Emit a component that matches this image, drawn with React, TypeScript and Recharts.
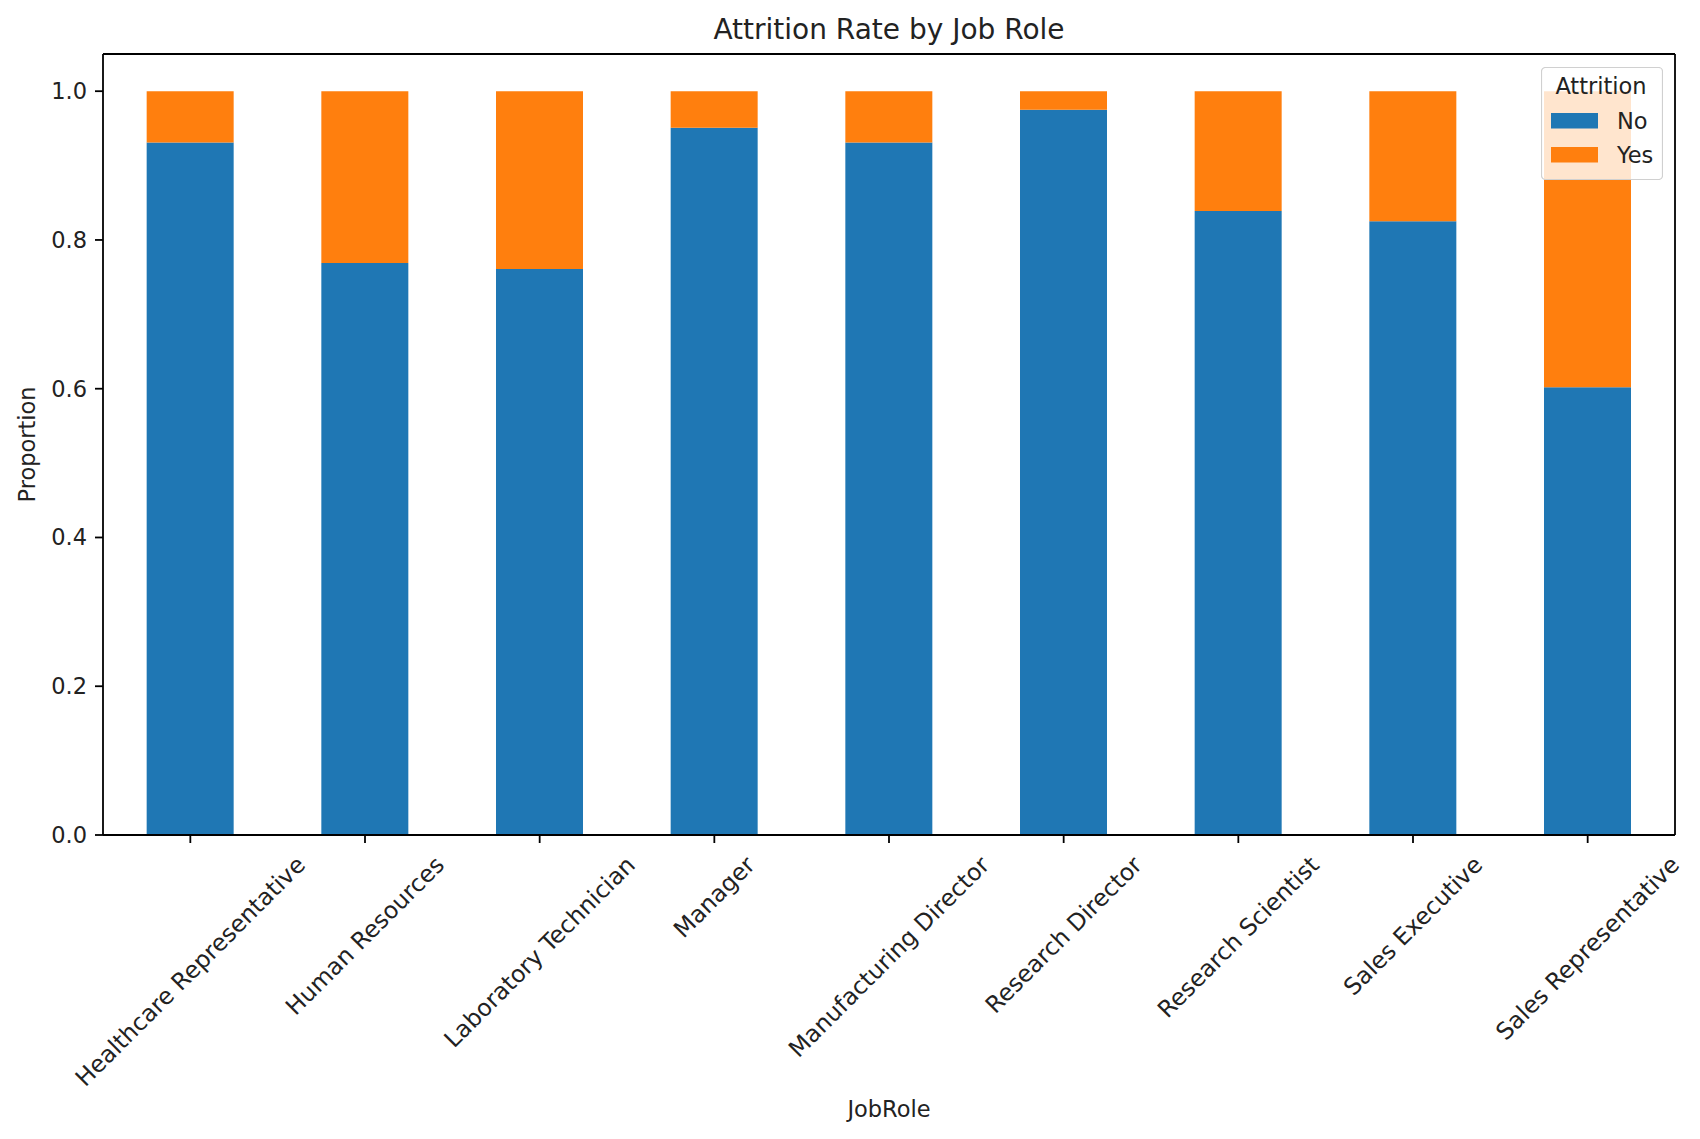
import React from 'react'
import { BarChart, Bar, Line, XAxis, YAxis, Legend, Label } from 'recharts'

const roles = [
  'Healthcare Representative',
  'Human Resources',
  'Laboratory Technician',
  'Manager',
  'Manufacturing Director',
  'Research Director',
  'Research Scientist',
  'Sales Executive',
  'Sales Representative',
]
const noShare = [0.931, 0.769, 0.761, 0.951, 0.931, 0.975, 0.839, 0.825, 0.602]
const yesShare = [0.069, 0.231, 0.239, 0.049, 0.069, 0.025, 0.161, 0.175, 0.398]
const yTicks = [0, 0.2, 0.4, 0.6, 0.8, 1.0]

const data = roles.map((role, i) => ({ role, No: noShare[i], Yes: yesShare[i] }))

const FONT = 'DejaVu Sans'
const FS = 22.5
const XFS = 23.5
const BLUE = '#1f77b4'
const ORANGE = '#ff7f0e'

let ctx: CanvasRenderingContext2D | null = null
function textWidth(s: string) {
  if (!ctx) ctx = document.createElement('canvas').getContext('2d')
  if (!ctx) return s.length * XFS * 0.58
  ctx.font = `${XFS}px "${FONT}"`
  return ctx.measureText(s).width
}

function RoleTick(props: any) {
  const { x, y, payload } = props
  const label = String(payload.value)
  const w = textWidth(label)
  const h = XFS * 1.17
  const cy = y + ((w + h) * Math.SQRT1_2) / 2
  return (
    <text x={x} y={cy} transform={`rotate(-45, ${x}, ${cy})`} textAnchor="middle"
      dominantBaseline="central" fontFamily={FONT} fontSize={XFS} fill="#222">
      {label}
    </text>
  )
}

function LegendBox(props: any) {
  const items = (props.payload || []).filter((it: any) => it.type !== 'none')
  return (
    <svg width={122} height={113} style={{ display: 'block' }}>
      <rect x={0.5} y={0.5} width={121} height={112} rx={4} fill="#fff" fillOpacity={0.8} stroke="#d0d0d0" strokeWidth={1.2} />
      <text x={60} y={27} textAnchor="middle" fontFamily={FONT} fontSize={FS} fill="#222">Attrition</text>
      {items.map((it: any, i: number) => (
        <g key={it.value}>
          <rect x={10} y={46 + i * 34} width={47} height={15.5} fill={it.color} />
          <text x={76} y={62 + i * 34} fontFamily={FONT} fontSize={FS} fill="#222">{it.value}</text>
        </g>
      ))}
    </svg>
  )
}

export default function App() {
  return (
    <div style={{ position: 'absolute', left: 0, top: 0, width: 1700, height: 1139, background: '#fff' }}>
      <BarChart width={1700} height={1139} data={data} barCategoryGap="25%"
        margin={{ top: 53, right: 24, bottom: 14, left: 43 }}>
        <XAxis dataKey="role" height={290} interval={0} tick={<RoleTick />} tickSize={8} tickMargin={8}
          axisLine={{ stroke: '#000', strokeWidth: 1.8 }} tickLine={{ stroke: '#000', strokeWidth: 1.8 }}>
          <Label value="JobRole" position="insideBottom" offset={8} fontFamily={FONT} fontSize={FS} fill="#222" />
        </XAxis>
        <XAxis xAxisId="t" dataKey="role" orientation="top" height={1} tick={false} tickLine={false}
          axisLine={{ stroke: '#000', strokeWidth: 1.8 }}>
          <Label content={(p: any) => (
            <text x={p.viewBox.x + p.viewBox.width / 2} y={p.viewBox.y - 14} textAnchor="middle"
              fontFamily={FONT} fontSize={28} fill="#222">Attrition Rate by Job Role</text>
          )} />
        </XAxis>
        <YAxis width={60} domain={[0, 1.05]} ticks={yTicks} tickFormatter={(v: number) => v.toFixed(1)}
          tickSize={8} tickMargin={8} allowDataOverflow
          tick={{ fontFamily: FONT, fontSize: FS, fill: '#222' }}
          axisLine={{ stroke: '#000', strokeWidth: 1.8 }} tickLine={{ stroke: '#000', strokeWidth: 1.8 }}>
          <Label content={(p: any) => {
            const cx = p.viewBox.x - 16
            const cy = p.viewBox.y + p.viewBox.height / 2
            return (
              <text x={cx} y={cy} transform={`rotate(-90, ${cx}, ${cy})`} textAnchor="middle"
                dominantBaseline="central" fontFamily={FONT} fontSize={FS} fill="#222">Proportion</text>
            )
          }} />
        </YAxis>
        <YAxis yAxisId="r" orientation="right" width={1} domain={[0, 1.05]} tick={false} tickLine={false}
          axisLine={{ stroke: '#000', strokeWidth: 1.8 }} />
        <Bar dataKey="No" stackId="a" fill={BLUE} isAnimationActive={false} />
        <Bar dataKey="Yes" stackId="a" fill={ORANGE} isAnimationActive={false} />
        <Line xAxisId="t" yAxisId="r" dataKey="No" stroke="none" dot={false} activeDot={false}
          legendType="none" isAnimationActive={false} />
        <Legend layout="vertical" align="center" verticalAlign="middle" content={<LegendBox />}
          wrapperStyle={{ left: 1541, top: 67, width: 122, height: 113 }} />
      </BarChart>
    </div>
  )
}
